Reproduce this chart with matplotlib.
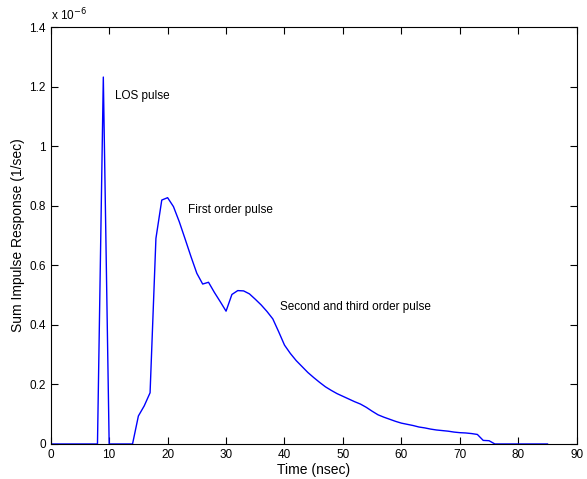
import numpy as np
import matplotlib
matplotlib.use("Agg")
import matplotlib.pyplot as plt
from matplotlib.ticker import FuncFormatter, MultipleLocator

plt.rcParams['font.family'] = ['Liberation Sans', 'DejaVu Sans']

time_ns = list(range(0, 86))
resp_e6 = [0.0] * 9 + [1.232] + [0.0] * 5 + [
    0.094, 0.128, 0.172, 0.69, 0.819, 0.827, 0.797, 0.746, 0.688, 0.629,
    0.573, 0.537, 0.543, 0.509, 0.478, 0.446, 0.502, 0.515, 0.514, 0.504,
    0.486, 0.467, 0.445, 0.42, 0.377, 0.332, 0.304, 0.28, 0.26, 0.24,
    0.223, 0.207, 0.192, 0.18, 0.169, 0.16, 0.151, 0.142, 0.134, 0.123,
    0.11, 0.098, 0.09, 0.083, 0.076, 0.07, 0.066, 0.062, 0.057, 0.054,
    0.05, 0.047, 0.045, 0.043, 0.04, 0.038, 0.037, 0.035, 0.032, 0.012,
    0.011] + [0.0] * 10
response = np.array(resp_e6) * 1e-6

annotations = [
    (11.0, 1.17e-6, "LOS pulse"),
    (23.5, 0.786e-6, "First order pulse"),
    (39.2, 0.461e-6, "Second and third order pulse"),
]

fig = plt.figure(figsize=(5.87, 4.79), dpi=100)
ax = fig.add_axes([0.0864, 0.0731, 0.8961, 0.8705])
ax.plot(time_ns, response, color='#0000ff', lw=1.0)

ax.set_xlim(0, 90)
ax.set_ylim(0, 1.4e-6)
ax.xaxis.set_major_locator(MultipleLocator(10))
ax.yaxis.set_major_locator(MultipleLocator(0.2e-6))
ax.yaxis.set_major_formatter(FuncFormatter(lambda v, p: f"{v/1e-6:g}"))
ax.tick_params(direction='in', top=True, right=True, labelsize=8.5, length=5, width=0.8)
for s in ax.spines.values():
    s.set_linewidth(0.8)

for x, y, t in annotations:
    ax.text(x, y, t, fontsize=8.5, va='center', ha='left')

ax.text(0.0, 1.008, r'x 10$^{-6}$', transform=ax.transAxes, fontsize=8.5, ha='left', va='bottom')
ax.set_xlabel("Time (nsec)", fontsize=10, labelpad=1.5)
ax.set_ylabel("Sum Impulse Response (1/sec)", fontsize=10, labelpad=3)

fig.savefig("out.png", dpi=100)
